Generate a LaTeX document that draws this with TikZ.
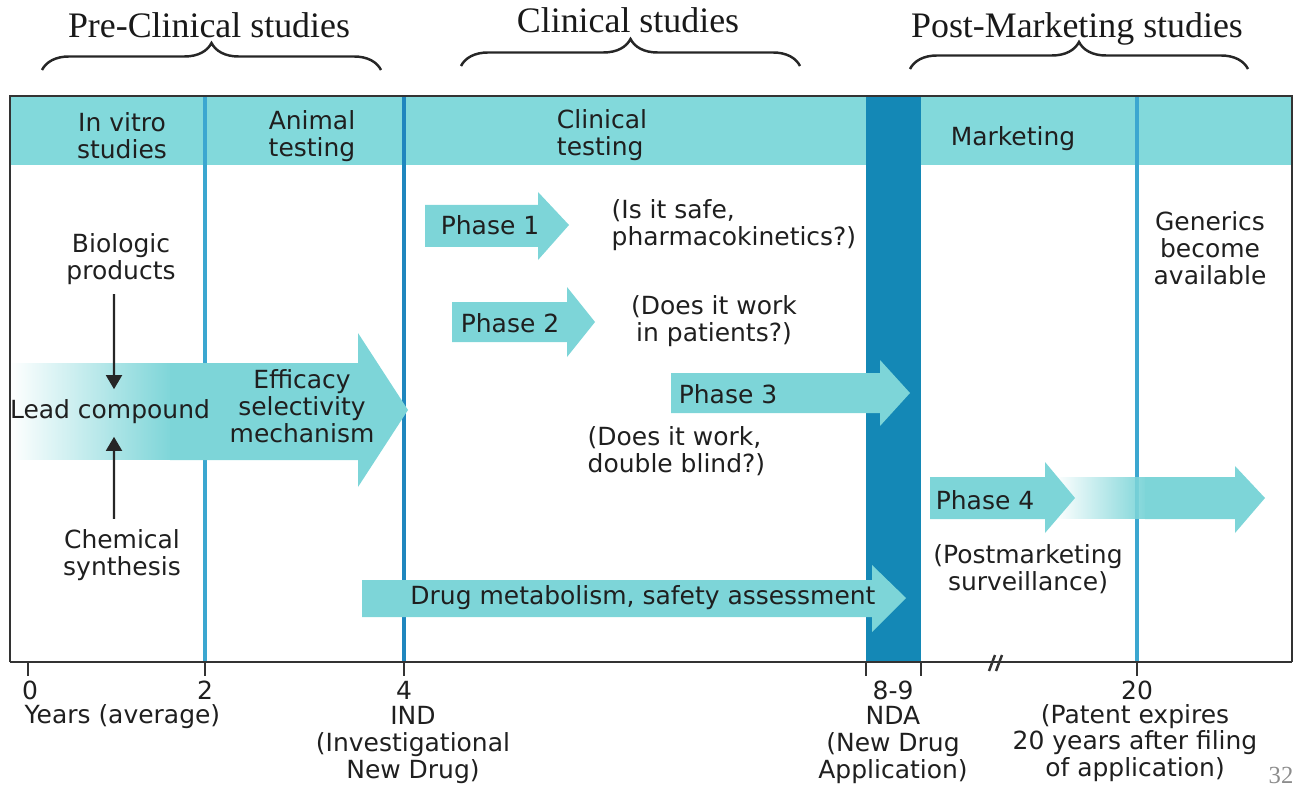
\documentclass[tikz,border=0pt]{standalone}
\usepackage{fontspec}
\setmainfont{DejaVu Sans}
\newfontfamily\slidefont{Liberation Serif}
\usetikzlibrary{arrows.meta,positioning,decorations.pathreplacing,fadings}

\definecolor{bandcyan}{HTML}{82D9DB}
\definecolor{arrowcyan}{HTML}{7DD5D8}
\definecolor{ndablue}{HTML}{1488B6}
\definecolor{yearblue}{HTML}{3BA7D0}
\definecolor{indblue}{HTML}{1F86BE}

\tikzfading[name=fadein,left color=transparent!100,right color=transparent!0]

\begin{document}
\begin{tikzpicture}[
  x=0.01cm,y=-0.01cm,
  lbl/.style={font=\fontsize{7.1}{7.6}\selectfont,text=black!88,align=center,inner sep=0pt},
  studies/.style={font=\slidefont\fontsize{10.2}{12}\selectfont,text=black!90,inner sep=0pt},
  bracket/.style={decorate,decoration={brace,amplitude=0.27cm},line width=0.7pt,black!85},
  yearline/.style={yearblue,line width=1.1pt},
  tick/.style={black!80,line width=0.7pt},
  pointer/.style={black!85,line width=0.7pt,-{Triangle[width=4.5pt,length=4pt]}},
  blockarrow/.style={fill=arrowcyan}
]
  \useasboundingbox (0,0) rectangle (1300,788);

  % phase groups on top
  \draw[bracket] (42,70) -- (381,70);
  \draw[bracket] (461,66) -- (800,66);
  \draw[bracket] (910,69) -- (1248,69);
  \node[studies] (preclin) at (209,25) {Pre-Clinical studies};
  \node[studies] (clin) at (628,20) {Clinical studies};
  \node[studies] (postmark) at (1077,29) {Post-Marketing studies};

  % header band and NDA column
  \fill[bandcyan] (10,96) rectangle (1292,165);
  \fill[ndablue] (866,96) rectangle (921,662);
  \draw[yearline] (205,97) -- (205,662);
  \draw[yearline,indblue,line width=1.4pt] (404,97) -- (404,662);
  \draw[yearline] (1137,97) -- (1137,662);

  \node[lbl] (invitro) at (122,136) {In vitro\\studies};
  \node[lbl] (animal) at (312,136) {Animal\\testing};
  \node[lbl,align=left] (clintest) at (602,135) {Clinical\\testing};
  \node[lbl] (marketing) at (1013,139) {Marketing};

  % preclinical arrow
  \fill[blockarrow,path fading=fadein] (10,363) rectangle (172,460);
  \fill[blockarrow] (170,363) -- (358,363) -- (358,333) -- (408,410) -- (358,487) -- (358,460) -- (170,460) -- cycle;

  % clinical phases
  \fill[blockarrow] (425,205) -- (538,205) -- (538,192) -- (569,225) -- (538,260) -- (538,247) -- (425,247) -- cycle;
  \fill[blockarrow] (452,302) -- (567,302) -- (567,287) -- (595,322) -- (567,357) -- (567,342) -- (452,342) -- cycle;
  \fill[blockarrow] (671,373) -- (880,373) -- (880,360) -- (910,393) -- (880,426) -- (880,413) -- (671,413) -- cycle;
  \fill[blockarrow] (362,580) -- (872,580) -- (872,565) -- (906,598) -- (872,632) -- (872,617) -- (362,617) -- cycle;

  % postmarketing
  \fill[blockarrow,path fading=fadein] (1055,477) rectangle (1147,519);
  \fill[blockarrow] (1145,477) -- (1235,477) -- (1235,466) -- (1265,498) -- (1235,533) -- (1235,519) -- (1145,519) -- cycle;
  \fill[blockarrow] (930,477) -- (1045,477) -- (1045,462) -- (1075,498) -- (1045,533) -- (1045,519) -- (930,519) -- cycle;

  \node[lbl] (biologic) at (121,259) {Biologic\\products};
  \node[lbl] (lead) at (110,412) {Lead compound};
  \node[lbl] (chemical) at (122,555) {Chemical\\synthesis};
  \draw[pointer] ([xshift=-0.07cm,yshift=-0.09cm]biologic.south) -- ([xshift=0.04cm,yshift=0.1cm]lead.north);
  \draw[pointer] ([xshift=-0.08cm,yshift=0.1cm]chemical.north) -- ([xshift=0.04cm,yshift=-0.12cm]lead.south);
  \node[lbl] (efficacy) at (302,406) {Efficacy\\selectivity\\mechanism};

  \node[lbl] (ph1) at (490,225) {Phase 1};
  \node[lbl,align=left,anchor=west] (ph1q) at (611,225) {(Is it safe,\\pharmacokinetics?)};
  \node[lbl] (ph2) at (510,323) {Phase 2};
  \node[lbl] (ph2q) at (714,321) {(Does it work\\in patients?)};
  \node[lbl] (ph3) at (728,394) {Phase 3};
  \node[lbl,align=left,anchor=west] (ph3q) at (587,451) {(Does it work,\\double blind?)};
  \node[lbl] (drug) at (643,598) {Drug metabolism, safety assessment};
  \node[lbl] (ph4) at (985,500) {Phase 4};
  \node[lbl] (ph4q) at (1028,569) {(Postmarketing\\surveillance)};
  \node[lbl] (generics) at (1210,248) {Generics\\become\\available};

  % frame and time axis
  \draw[black!80,line width=0.7pt] (10,662) -- (10,96) -- (1292,96) -- (1292,662);
  \draw[black!80,line width=0.7pt] (10,662) -- (1292,662);
  \foreach \tx in {28,205,404,866,921,1137}
    \draw[tick] (\tx,662) -- (\tx,676);
  \draw[tick] (989,671) -- (995,655);
  \draw[tick] (996,671) -- (1002,655);

  \node[lbl] (y0) at (30,690) {0};
  \node[lbl,anchor=west] (years) at (24,717) {Years (average)};
  \node[lbl] (y2) at (205,690) {2};
  \node[lbl] (y4) at (404,690) {4};
  \node[lbl] (ind) at (413,745) {IND\\(Investigational\\New Drug)};
  \node[lbl] (y89) at (893,690) {8-9};
  \node[lbl] (nda) at (893,745) {NDA\\(New Drug\\Application)};
  \node[lbl] (y20) at (1137,690) {20};
  \node[lbl] (patent) at (1135,743) {(Patent expires\\20 years after filing\\of application)};

  \node[font=\slidefont\fontsize{7}{8}\selectfont,text=black!45,inner sep=0pt] (pagenum) at (1281,775) {32};
\end{tikzpicture}
\end{document}
